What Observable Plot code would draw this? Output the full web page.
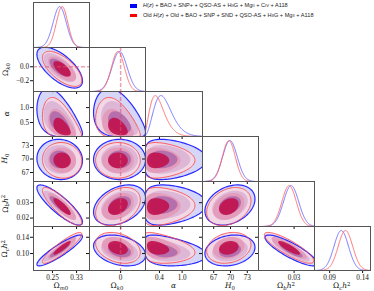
<!DOCTYPE html>
<html><head><meta charset="utf-8">
<script src="https://cdn.jsdelivr.net/npm/d3@7"></script>
<script src="https://cdn.jsdelivr.net/npm/@observablehq/plot@0.6"></script>
<style>
body{margin:0;background:#fff;}
#fig{position:relative;width:374px;height:291px;overflow:hidden;background:#fff;}
#fig svg{overflow:visible;}
.lab{position:absolute;font-family:"DejaVu Serif",serif;font-size:7.5px;white-space:nowrap;color:#111;line-height:1;}
.lab i{font-style:italic}
.sub{font-size:0.72em;vertical-align:-0.3em}
.sup{font-size:0.72em;vertical-align:0.45em}
#legend{position:absolute;left:130px;top:1px;font-family:"Liberation Sans",sans-serif;font-size:5.6px;color:#222;line-height:8.6px;}
#legend .row{display:flex;align-items:center;white-space:nowrap}
#legend .sw{display:inline-block;width:7px;height:3.5px;margin-right:6px}
.sc{font-size:0.75em}
</style></head><body><div id="fig"></div>
<script>
// ---- data ----
const params = ["Om0", "Ok0", "alpha", "H0", "Obh2", "Och2"];
const xDomains = [[0.187, 0.373], [-0.35, 0.28], [0.03, 1.54], [65, 75], [0.0122, 0.0402], [0.067, 0.152]];
const yDomains = [[0.187, 0.373], [-0.354, 0.276], [0.03, 1.54], [65, 75], [0.0145, 0.0438], [0.0584, 0.1664]];
const xTicks = [[0.25, 0.33], [0], [0.4, 1.0], [67, 70, 73], [0.03], [0.09, 0.14]];
const xTickLabels = [["0.25", "0.33"], ["0"], ["0.4", "1.0"], ["67", "70", "73"], ["0.03"], ["0.09", "0.14"]];
const yTicks = [[], [0.0, -0.2], [0.5, 1.0], [67, 70, 73], [0.02, 0.03], [0.10, 0.14]];
const yTickLabels = [[], ["0.0", "\u22120.2"], ["0.5", "1.0"], ["67", "70", "73"], ["0.02", "0.03"], ["0.10", "0.14"]];
// posterior summaries (alpha sigma is in sqrt(alpha) units)
const meanBlue = [0.274, -0.012, 0.44, 69.9, 0.0285, 0.1076];
const sigmaBlue = [0.022, 0.085, 0.18, 1.30, 0.0038, 0.011];
const meanRed = [0.282, -0.030, 0.29, 69.7, 0.0275, 0.114];
const sigmaRed = [0.019, 0.073, 0.18, 1.15, 0.0036, 0.011];
const rho = [
  [],
  [-0.65],
  [-0.5, -0.4],
  [-0.05, 0.0, 0.0],
  [-0.85, 0.35, 0.05, 0.3],
  [0.9, -0.3, -0.3, 0.2, -0.85]
];
const sqrtParam = [false, false, true, false, false, false];
const levels = [3.44, 2.45, 1.52];
const fillBlue = ["#d2d2f7", "#dcb4d4", "#ae6aab"];
const fillRed = ["#f5d8e3", "#e399b8", "#c0104c"];
const legendItems = [
  {color: "#0000ff", html: "<i>H</i>(<i>z</i>) + BAO + SNP+ + QSO-AS + H<span class='sc'>II</span>G + Mg<span class='sc'>II</span> + C<span class='sc'>IV</span> + A118"},
  {color: "#ff0000", html: "Old <i>H</i>(<i>z</i>) + Old + BAO + SNP + SND + QSO-AS + H<span class='sc'>II</span>G + Mg<span class='sc'>II</span> + A118"}
];
const axisLabels = [
  "\u03A9<span class='sub'><i>m</i>0</span>",
  "\u03A9<span class='sub'><i>k</i>0</span>",
  "<i>\u03B1</i>",
  "<i>H</i><span class='sub'>0</span>",
  "\u03A9<span class='sub'><i>b</i></span><i>h</i><span class='sup'>2</span>",
  "\u03A9<span class='sub'><i>c</i></span><i>h</i><span class='sup'>2</span>"
];

// ---- helpers ----
const fwd = (k, v) => sqrtParam[k] ? Math.sqrt(Math.max(v, 0)) : v;
const inv = (k, u) => sqrtParam[k] ? u * Math.abs(u) : u;
function ellipse(jx, iy, mean, sig, r) {
  const mx = fwd(jx, mean[jx]), my = fwd(iy, mean[iy]);
  const sx = sig[jx], sy = sig[iy], p = rho[iy][jx], q = Math.sqrt(1 - p * p);
  return d3.range(120).map(n => {
    const t = 2 * Math.PI * n / 120, a = Math.cos(t), b = Math.sin(t);
    return {x: inv(jx, mx + r * sx * a), y: inv(iy, my + r * sy * (p * a + q * b))};
  });
}
function curve(k, mean, sig) {
  const [a, b] = xDomains[k], m = fwd(k, mean[k]);
  return d3.range(201).map(n => {
    const x = a + (b - a) * n / 200, z = (fwd(k, x) - m) / sig[k];
    return {x, y: Math.exp(-0.5 * z * z)};
  });
}

const fig = document.getElementById("fig");
const colX = d3.range(7).map(j => Math.round(33 + j * 56.23));
const rowY = d3.range(7).map(i => Math.round(2 + i * 44.7));

for (let i = 0; i < 6; i++) for (let j = 0; j <= i; j++) {
  const ml = j === 0 ? 33 : 0, mb = i === 5 ? 21 : 0;
  const w = colX[j + 1] - colX[j], h = rowY[i + 1] - rowY[i];
  const marks = [];
  if (i === j) {
    marks.push(Plot.line(curve(j, meanBlue, sigmaBlue), {x: "x", y: "y", stroke: "#6868ff", strokeWidth: 0.9, clip: true}));
    marks.push(Plot.line(curve(j, meanRed, sigmaRed), {x: "x", y: "y", stroke: "#ff6464", strokeWidth: 0.9, clip: true}));
  } else {
    levels.forEach((r, l) => {
      marks.push(Plot.line(ellipse(j, i, meanBlue, sigmaBlue, r), {x: "x", y: "y", fill: fillBlue[l], fillOpacity: 0.9, stroke: "none", curve: "linear-closed", clip: true}));
      marks.push(Plot.line(ellipse(j, i, meanRed, sigmaRed, r), {x: "x", y: "y", fill: fillRed[l], fillOpacity: 0.9, stroke: "none", curve: "linear-closed", clip: true}));
    });
    marks.push(Plot.line(ellipse(j, i, meanBlue, sigmaBlue, levels[0]), {x: "x", y: "y", stroke: "#2b2bff", strokeWidth: 1.2, curve: "linear-closed", clip: true}));
    marks.push(Plot.line(ellipse(j, i, meanRed, sigmaRed, levels[0]), {x: "x", y: "y", stroke: "#ff4d4d", strokeWidth: 0.9, curve: "linear-closed", clip: true}));
    if (i === 1) marks.push(Plot.ruleY([0], {stroke: "#e0506e", strokeOpacity: 0.55, strokeWidth: 1.5, strokeDasharray: "4,2"}));
  }
  if (j === 1) marks.push(Plot.ruleX([0], {stroke: "#e0506e", strokeOpacity: 0.55, strokeWidth: 1.5, strokeDasharray: "4,2"}));
  marks.push(Plot.frame({stroke: "#555", strokeWidth: 1}));
  const plot = Plot.plot({
    width: w + ml, height: h + mb,
    marginLeft: ml, marginBottom: mb, marginTop: 0, marginRight: 0,
    x: {domain: xDomains[j], ticks: xTicks[j], tickSize: 3, tickPadding: 1, label: null,
        tickFormat: d => i === 5 ? xTickLabels[j][xTicks[j].indexOf(d)] : ""},
    y: i === j ? {domain: [0, 1.1], axis: null}
      : {domain: yDomains[i], ticks: yTicks[i], tickSize: 3, tickPadding: 1.5, label: null,
         tickFormat: d => j === 0 ? yTickLabels[i][yTicks[i].indexOf(d)] : ""},
    style: {fontFamily: "Liberation Serif, serif", fontSize: "7.2px", background: "transparent", color: "#111", overflow: "visible"},
    marks
  });
  plot.style.position = "absolute";
  plot.style.left = (colX[j] - ml) + "px";
  plot.style.top = rowY[i] + "px";
  fig.appendChild(plot);
}

// axis labels
axisLabels.forEach((html, k) => {
  const b = document.createElement("div");
  b.className = "lab"; b.innerHTML = html;
  fig.appendChild(b);
  const cx = (colX[k] + colX[k + 1]) / 2;
  b.style.left = (cx - b.offsetWidth / 2) + "px";
  b.style.top = "281.5px";
  if (k > 0) {
    const l = document.createElement("div");
    l.className = "lab"; l.innerHTML = html;
    fig.appendChild(l);
    const cy = (rowY[k] + rowY[k + 1]) / 2;
    l.style.left = (6 - l.offsetWidth / 2) + "px";
    l.style.top = (cy - l.offsetHeight / 2) + "px";
    l.style.transform = "rotate(-90deg)";
  }
});

// legend
const lg = document.createElement("div");
lg.id = "legend";
legendItems.forEach(it => {
  const r = document.createElement("div");
  r.className = "row";
  r.innerHTML = `<span class="sw" style="background:${it.color}"></span><span>${it.html}</span>`;
  lg.appendChild(r);
});
fig.appendChild(lg);
</script></body></html>
